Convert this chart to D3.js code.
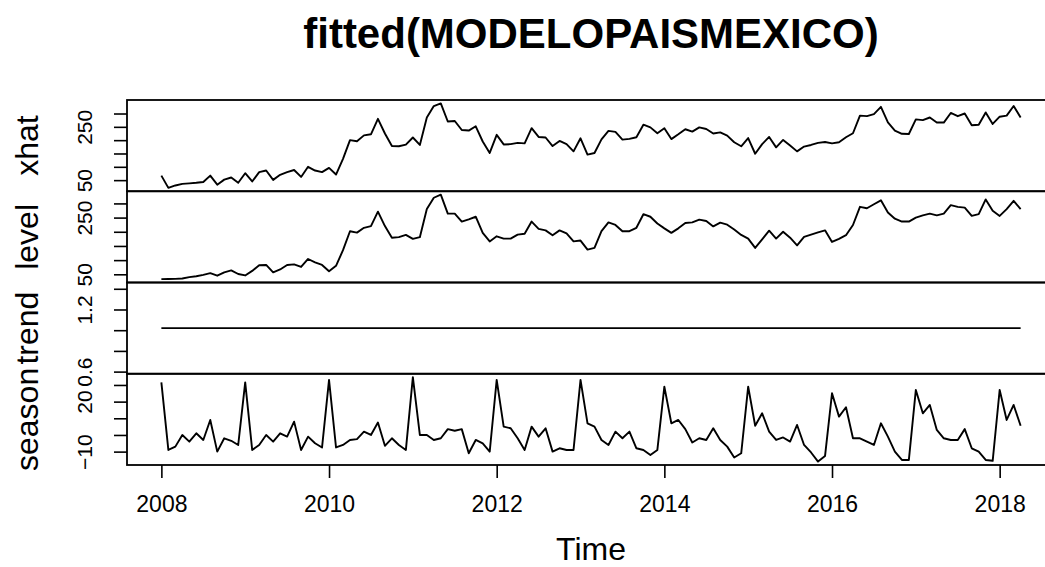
<!DOCTYPE html>
<html><head><meta charset="utf-8">
<script src="https://cdn.jsdelivr.net/npm/d3@7"></script>
<style>
body{margin:0;background:#fff}
svg{display:block}
text{font-family:"Liberation Sans",Arial,Helvetica,sans-serif;fill:#000}
</style>
</head><body>
<svg id="chart" width="1045" height="567"></svg>
<script>
// ---- data (monthly, Jan 2008 - Apr 2018) ----
const startYear = 2008;
const frequency = 12;
const title = "fitted(MODELOPAISMEXICO)";
const xLabel = "Time";
const seriesNames = ["xhat", "level", "trend", "season"];

const xhat = [67,21,30,36,38,40,43,67,33,52,60,40,76,45,80,86,51,70,80,88,62,100,86,80,96,71,130,200,196,218,222,280,225,178,177,183,210,182,285,328,338,270,272,238,236,252,195,152,220,184,185,190,188,245,212,210,178,197,185,158,207,146,152,203,235,231,202,205,211,258,248,226,245,204,222,241,232,248,242,225,229,217,192,177,208,149,185,212,173,201,180,158,176,182,190,193,188,192,211,226,292,290,298,325,267,236,224,223,278,275,285,266,266,302,290,300,256,258,304,261,288,292,328,285];

const level = [33,33.5,34,35,40,43,48,54,45,57,64,51,46,62,82,83,57,67,83,85,76,104,92,83,61,80,135,202,197,214,220,271,220,179,181,189,175,181,280,320,331,264,264,236,244,253,196,166,184,176,176,190,193,236,210,205,188,205,194,166,169,137,143,202,233,224,202,202,214,262,253,229,212,196,212,231,233,243,238,219,232,225,208,189,176,143,173,204,176,200,179,152,182,190,198,205,164,175,188,224,288,283,297,311,268,246,236,236,250,258,264,258,264,294,288,285,256,262,314,274,256,280,309,280];

const trend = [1.02,1.02,1.02,1.02,1.02,1.02,1.02,1.02,1.02,1.02,1.02,1.02,1.02,1.02,1.02,1.02,1.02,1.02,1.02,1.02,1.02,1.02,1.02,1.02,1.02,1.02,1.02,1.02,1.02,1.02,1.02,1.02,1.02,1.02,1.02,1.02,1.02,1.02,1.02,1.02,1.02,1.02,1.02,1.02,1.02,1.02,1.02,1.02,1.02,1.02,1.02,1.02,1.02,1.02,1.02,1.02,1.02,1.02,1.02,1.02,1.02,1.02,1.02,1.02,1.02,1.02,1.02,1.02,1.02,1.02,1.02,1.02,1.02,1.02,1.02,1.02,1.02,1.02,1.02,1.02,1.02,1.02,1.02,1.02,1.02,1.02,1.02,1.02,1.02,1.02,1.02,1.02,1.02,1.02,1.02,1.02,1.02,1.02,1.02,1.02,1.02,1.02,1.02,1.02,1.02,1.02,1.02,1.02,1.02,1.02,1.02,1.02,1.02,1.02,1.02,1.02,1.02,1.02,1.02,1.02,1.02,1.02,1.02,1.02];

const season = [31.5,-9,-7,0,-4,1,-3,9,-10,-2,-3.5,-6,31.5,-9,-6,0,-4,1,-1,8,-9,-1,-5,-7.5,33,-7.5,-6,-3,-2.5,2,0,7.5,-6.5,-2,-6,-9,34.7,0,0,-3,-2,3.5,2.5,3.5,-11,-3,-5,-10,33,5,4,-2,-9,5,-1,4,-10,-8,-9,-9,33,7,5,-3,-6,2,-2,2,-8,-9,-12,-9,29,7,9,3.5,-4.5,-2,-3,4,-3,-7,-13.5,-11,29,5.5,13,2,-3,-1.5,-4,6,-6,-10.5,-16,-12.7,25,11,16.6,-2,-2,-4,-6,7,-1,-10,-15,-15,27,13,18,3,-2,-3,-3,3.5,-8,-10,-15,-15.5,27,9,18,5.5];

const xTickValues = [2008, 2010, 2012, 2014, 2016, 2018];
const xhatTicks = [50, 100, 150, 200, 250, 300];
const xhatTickLabels = [50, 250];
const levelTicks = [50, 100, 150, 200, 250, 300];
const levelTickLabels = [50, 250];
const trendTicks = [0.6, 0.8, 1.0, 1.2, 1.4];
const trendTickLabels = [0.6, 1.2];
const seasonTicks = [-10, 0, 10, 20, 30];
const seasonTickLabels = [-10, 20];

// ---- layout ----
const plotLeft = 127, plotRight = 1055, plotTop = 100, plotBottom = 465;
const nPanels = 4;
const panelH = (plotBottom - plotTop) / nPanels;

const svg = d3.select("#chart");

function rExtent(vals) {
  let [a, b] = d3.extent(vals);
  if (a === b) { const d = 0.4 * Math.abs(a); a -= d; b += d; }
  const p = (b - a) * 0.04;
  return [a - p, b + p];
}

const times = xhat.map((_, i) => startYear + i / frequency);
const x = d3.scaleLinear().domain(rExtent(times)).range([plotLeft, plotRight]);

const panels = [
  {name: seriesNames[0], values: xhat, ticks: xhatTicks, labels: xhatTickLabels, fmt: d3.format("d")},
  {name: seriesNames[1], values: level, ticks: levelTicks, labels: levelTickLabels, fmt: d3.format("d")},
  {name: seriesNames[2], values: trend, ticks: trendTicks, labels: trendTickLabels, fmt: d3.format(".1f")},
  {name: seriesNames[3], values: season, ticks: seasonTicks, labels: seasonTickLabels, fmt: d3.format("d")}
];

panels.forEach((p, k) => {
  const top = plotTop + k * panelH;
  const bot = top + panelH;
  const y = d3.scaleLinear().domain(rExtent(p.values)).range([bot, top]);

  const line = d3.line().x((d, i) => x(times[i])).y(d => y(d));
  svg.append("path")
    .datum(p.values)
    .attr("d", line)
    .attr("fill", "none")
    .attr("stroke", "#000")
    .attr("stroke-width", 1.9)
    .attr("stroke-linejoin", "round");

  svg.append("rect")
    .attr("x", plotLeft).attr("y", top)
    .attr("width", plotRight - plotLeft).attr("height", panelH)
    .attr("fill", "none").attr("stroke", "#000").attr("stroke-width", 1.8);

  const ax = d3.axisLeft(y)
    .tickValues(p.ticks)
    .tickSize(13)
    .tickSizeOuter(0)
    .tickFormat(v => p.labels.some(l => Math.abs(l - v) < 1e-9) ? p.fmt(v) : "");
  const g = svg.append("g").attr("transform", `translate(${plotLeft},0)`).call(ax);
  g.select(".domain").remove();
  g.selectAll(".tick line").attr("stroke", "#000").attr("stroke-width", 1.6);
  g.selectAll(".tick text")
    .attr("x", null).attr("dy", null)
    .attr("transform", "translate(-35,0) rotate(-90)")
    .attr("text-anchor", "middle")
    .style("font-size", "21px")
    .style("font-family", '"Liberation Sans",Arial,sans-serif');

  svg.append("text")
    .attr("transform", `translate(37.5,${(top + bot) / 2}) rotate(-90)`)
    .attr("text-anchor", "middle")
    .style("font-size", "32px")
    .text(p.name);
});

const xa = d3.axisBottom(x).tickValues(xTickValues).tickSize(13).tickSizeOuter(0).tickFormat(d3.format("d"));
const gx = svg.append("g").attr("transform", `translate(0,${plotBottom})`).call(xa);
gx.select(".domain").remove();
gx.selectAll(".tick line").attr("stroke", "#000").attr("stroke-width", 1.6);
gx.selectAll(".tick text")
  .attr("y", 47).attr("dy", null)
  .style("font-size", "23px")
  .style("font-family", '"Liberation Sans",Arial,sans-serif');

svg.append("text")
  .attr("x", (plotLeft + plotRight) / 2).attr("y", 560)
  .attr("text-anchor", "middle")
  .style("font-size", "32px")
  .text(xLabel);

svg.append("text")
  .attr("x", (plotLeft + plotRight) / 2).attr("y", 48)
  .attr("text-anchor", "middle")
  .style("font-size", "42px")
  .style("font-weight", "bold")
  .text(title);
</script>
</body></html>
